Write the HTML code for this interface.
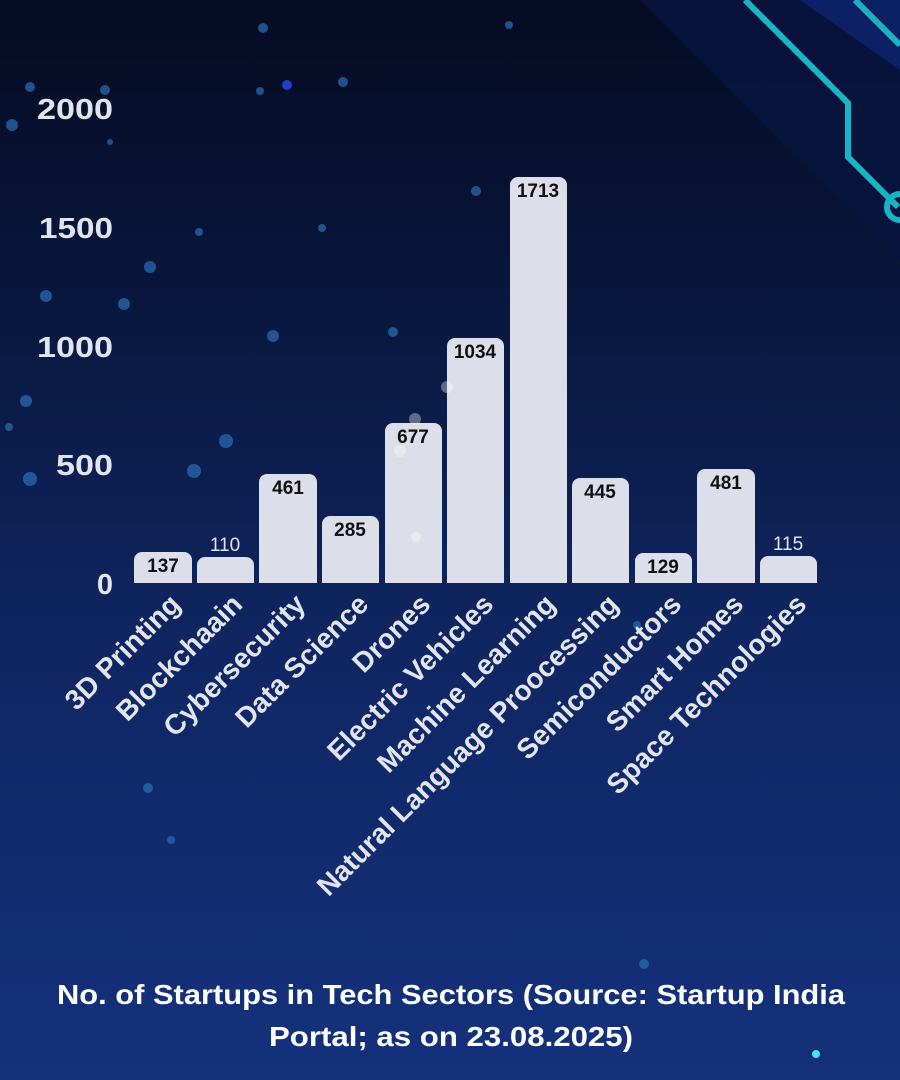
<!DOCTYPE html>
<html><head><meta charset="utf-8"><style>
html,body{margin:0;padding:0;width:900px;height:1080px;overflow:hidden;}
body{background:#0a1840;}
</style></head><body>
<svg width="900" height="1080" xmlns="http://www.w3.org/2000/svg" style="position:absolute;left:0;top:0">
<defs>
<linearGradient id="bg" x1="0" y1="0" x2="0" y2="1">
<stop offset="0" stop-color="#050b22"/><stop offset="0.3" stop-color="#091840"/><stop offset="0.6" stop-color="#0f2662"/><stop offset="1" stop-color="#14317c"/>
</linearGradient>
</defs>
<rect width="900" height="1080" fill="url(#bg)"/>
<polygon points="640,0 900,0 900,260" fill="#071540" opacity="0.8"/>
<polygon points="800,0 900,0 900,70" fill="#0c2470" opacity="0.8"/>
<polyline points="745,0 848,103 848,157 898,207" fill="none" stroke="#18b3c4" stroke-width="6"/>
<polyline points="855,0 900,45" fill="none" stroke="#18b3c4" stroke-width="6"/>
<circle cx="900" cy="207" r="13" fill="none" stroke="#18b3c4" stroke-width="6"/>
<g fill="#2a6fb8" opacity="0.7">
<circle cx="12" cy="125" r="6"/><circle cx="30" cy="87" r="5"/><circle cx="105" cy="90" r="5"/><circle cx="110" cy="142" r="3"/><circle cx="263" cy="28" r="5"/><circle cx="343" cy="82" r="5"/><circle cx="260" cy="91" r="4"/><circle cx="509" cy="25" r="4"/><circle cx="150" cy="267" r="6"/><circle cx="46" cy="296" r="6"/><circle cx="124" cy="304" r="6"/><circle cx="199" cy="232" r="4"/><circle cx="322" cy="228" r="4"/><circle cx="273" cy="336" r="6"/><circle cx="26" cy="401" r="6"/><circle cx="9" cy="427" r="4"/><circle cx="30" cy="479" r="7"/><circle cx="194" cy="471" r="7"/><circle cx="226" cy="441" r="7"/><circle cx="393" cy="332" r="5"/><circle cx="476" cy="191" r="5"/><circle cx="148" cy="788" r="5"/><circle cx="171" cy="840" r="4"/><circle cx="637" cy="625" r="4"/><circle cx="644" cy="964" r="5"/>
</g>
<circle cx="287" cy="85" r="5" fill="#1e3fd0"/>
<circle cx="816" cy="1054" r="4" fill="#3ee8f0"/>
<g font-family="Liberation Sans, sans-serif" font-weight="bold" font-size="29" fill="#e2e5ef" text-anchor="end">
<text x="113" y="119" textLength="76" lengthAdjust="spacingAndGlyphs">2000</text><text x="113" y="238" textLength="74" lengthAdjust="spacingAndGlyphs">1500</text><text x="113" y="357" textLength="76" lengthAdjust="spacingAndGlyphs">1000</text><text x="113" y="475" textLength="57" lengthAdjust="spacingAndGlyphs">500</text><text x="113" y="594">0</text>
</g>
<g fill="#dcdfe9">
<path d="M134,583 V560 a8,8 0 0 1 8,-8 H184 a8,8 0 0 1 8,8 V583 Z"/>
<path d="M197,583 V565 a8,8 0 0 1 8,-8 H246 a8,8 0 0 1 8,8 V583 Z"/>
<path d="M259,583 V482 a8,8 0 0 1 8,-8 H309 a8,8 0 0 1 8,8 V583 Z"/>
<path d="M322,583 V524 a8,8 0 0 1 8,-8 H371 a8,8 0 0 1 8,8 V583 Z"/>
<path d="M385,583 V431 a8,8 0 0 1 8,-8 H434 a8,8 0 0 1 8,8 V583 Z"/>
<path d="M447,583 V346 a8,8 0 0 1 8,-8 H496 a8,8 0 0 1 8,8 V583 Z"/>
<path d="M510,583 V185 a8,8 0 0 1 8,-8 H559 a8,8 0 0 1 8,8 V583 Z"/>
<path d="M572,583 V486 a8,8 0 0 1 8,-8 H621 a8,8 0 0 1 8,8 V583 Z"/>
<path d="M635,583 V561 a8,8 0 0 1 8,-8 H684 a8,8 0 0 1 8,8 V583 Z"/>
<path d="M697,583 V477 a8,8 0 0 1 8,-8 H747 a8,8 0 0 1 8,8 V583 Z"/>
<path d="M760,583 V564 a8,8 0 0 1 8,-8 H809 a8,8 0 0 1 8,8 V583 Z"/>
</g>
<g fill="#ffffff" opacity="0.35"><circle cx="415" cy="419" r="6"/><circle cx="447" cy="387" r="6"/><circle cx="400" cy="451" r="6"/><circle cx="416" cy="537" r="5"/></g>
<g font-family="Liberation Sans, sans-serif" font-weight="bold" font-size="19" fill="#111" text-anchor="middle">
<text x="163" y="572">137</text><text x="288" y="494">461</text><text x="350" y="536">285</text><text x="413" y="443">677</text><text x="475" y="358">1034</text><text x="538" y="197">1713</text><text x="600" y="498">445</text><text x="663" y="573">129</text><text x="726" y="489">481</text>
</g>
<g font-family="Liberation Sans, sans-serif" font-size="19" fill="#e2e5ef" text-anchor="middle">
<text x="225" y="551">110</text><text x="788" y="550">115</text>
</g>
<g font-family="Liberation Sans, sans-serif" font-weight="bold" font-size="28" fill="#e2e5ef" text-anchor="end">
<text transform="translate(182,606) rotate(-45)">3D Printing</text>
<text transform="translate(244,606) rotate(-45)">Blockchaain</text>
<text transform="translate(307,606) rotate(-45)">Cybersecurity</text>
<text transform="translate(370,606) rotate(-45)">Data Science</text>
<text transform="translate(432,606) rotate(-45)">Drones</text>
<text transform="translate(495,606) rotate(-45)">Electric Vehicles</text>
<text transform="translate(557,606) rotate(-45)">Machine Learning</text>
<text transform="translate(620,606) rotate(-45)">Natural Language Proocessing</text>
<text transform="translate(683,606) rotate(-45)">Semiconductors</text>
<text transform="translate(745,606) rotate(-45)">Smart Homes</text>
<text transform="translate(808,606) rotate(-45)">Space Technologies</text>
</g>
<g font-family="Liberation Sans, sans-serif" font-weight="bold" font-size="28" fill="#ffffff" text-anchor="middle">
<text x="451" y="1004" textLength="788" lengthAdjust="spacingAndGlyphs">No. of Startups in Tech Sectors (Source: Startup India</text>
<text x="451" y="1046" textLength="364" lengthAdjust="spacingAndGlyphs">Portal; as on 23.08.2025)</text>
</g>
</svg>
</body></html>
